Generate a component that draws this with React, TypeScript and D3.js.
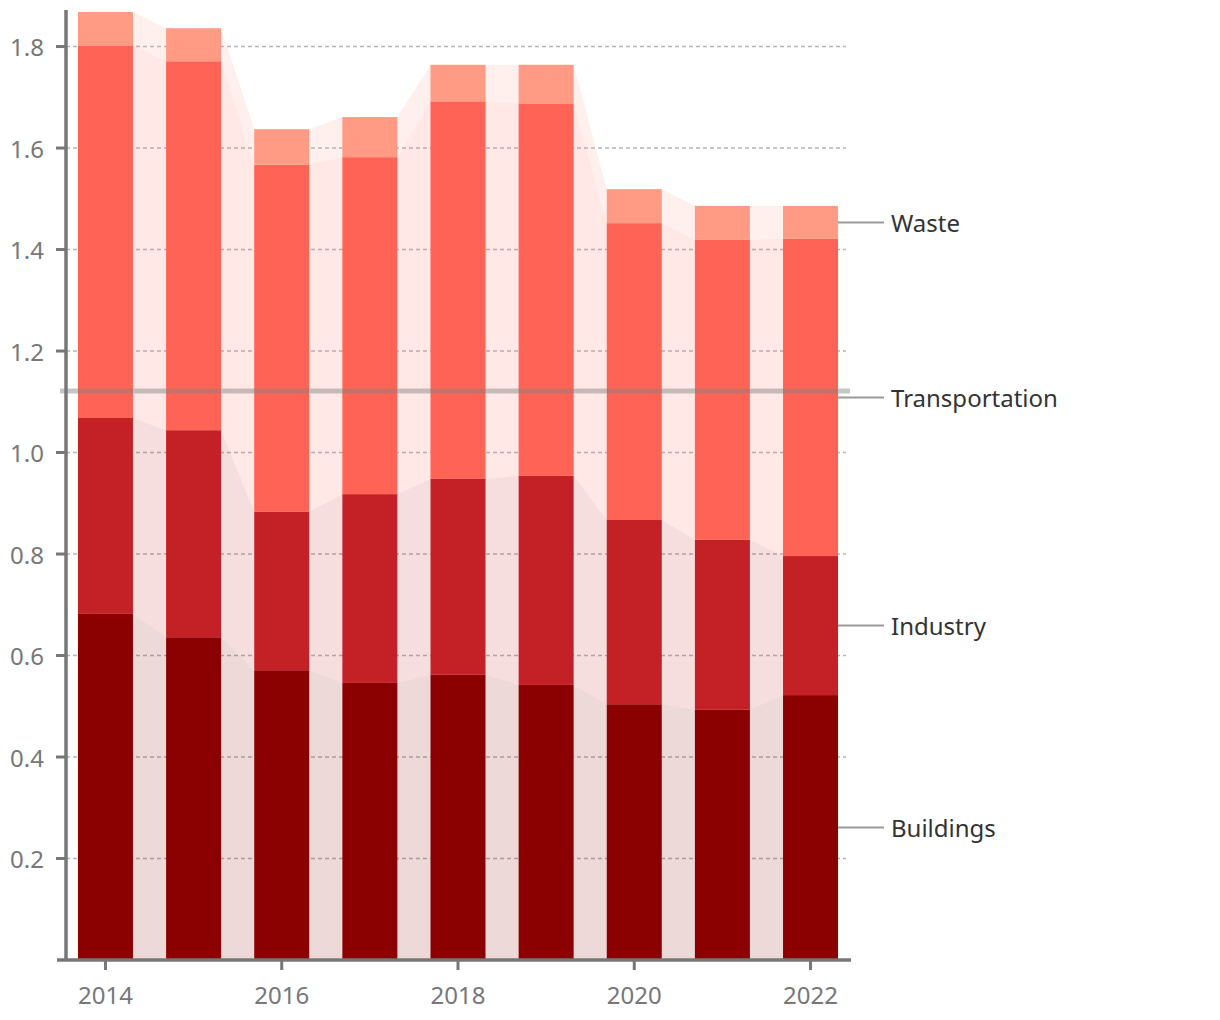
import React from "react";
import * as d3 from "d3";

const years = [2014, 2015, 2016, 2017, 2018, 2019, 2020, 2021, 2022];
const buildings = [0.682, 0.636, 0.571, 0.546, 0.562, 0.542, 0.504, 0.493, 0.522];
const industry = [0.386, 0.408, 0.312, 0.372, 0.386, 0.412, 0.363, 0.335, 0.274];
const transportation = [0.734, 0.727, 0.684, 0.664, 0.744, 0.734, 0.585, 0.591, 0.625];
const waste = [0.066, 0.065, 0.07, 0.079, 0.072, 0.076, 0.067, 0.067, 0.065];
const seriesNames = ["Buildings", "Industry", "Transportation", "Waste"];
const seriesColors = ["#8b0000", "#c42127", "#ff6355", "#ff9a85"];
const yTicks = [0.2, 0.4, 0.6, 0.8, 1.0, 1.2, 1.4, 1.6, 1.8];
const xTickYears = [2014, 2016, 2018, 2020, 2022];
const referenceValue = 1.121;

const FONT = "'Noto Sans', sans-serif";

export default function App() {
  const rows = years.map((yr, i) => ({
    year: yr,
    Buildings: buildings[i],
    Industry: industry[i],
    Transportation: transportation[i],
    Waste: waste[i],
  }));
  const stack = d3.stack<any>().keys(seriesNames);
  const stacked = stack(rows);

  const x = d3
    .scaleBand<number>()
    .domain(years)
    .range([61.4, 854.6])
    .paddingInner(0.376)
    .paddingOuter(0.188);
  const y = d3.scaleLinear().domain([0, 1.872]).range([960, 10]);
  const bw = x.bandwidth();

  const area = d3
    .area<any>()
    .x((d) => d.px)
    .y0((d) => y(d.y0))
    .y1((d) => y(d.y1))
    .curve(d3.curveLinear);

  const last = years.length - 1;

  return (
    <svg
      width={1220}
      height={1020}
      style={{ position: "absolute", left: 0, top: 0, background: "#fff" }}
      fontFamily={FONT}
    >
      {/* gridlines */}
      {yTicks.map((t) => (
        <line
          key={"g" + t}
          x1={66}
          x2={846}
          y1={y(t)}
          y2={y(t)}
          stroke="#b0b6bc"
          strokeWidth={1.5}
          strokeDasharray="4,3"
        />
      ))}
      {/* connecting areas */}
      {stacked.map((s, si) => {
        const pts: any[] = [];
        s.forEach((d: any, i: number) => {
          const x0 = x(years[i])!;
          pts.push({ px: x0, y0: d[0], y1: d[1] });
          pts.push({ px: x0 + bw, y0: d[0], y1: d[1] });
        });
        return (
          <path
            key={"a" + si}
            d={area(pts)!}
            fill={seriesColors[si]}
            fillOpacity={0.15}
          />
        );
      })}
      {/* bars */}
      {stacked.map((s, si) =>
        s.map((d: any, i: number) => (
          <rect
            key={"b" + si + "-" + i}
            x={x(years[i])}
            width={bw}
            y={y(d[1])}
            height={y(d[0]) - y(d[1])}
            fill={seriesColors[si]}
          />
        ))
      )}
      {/* reference line */}
      <line
        x1={60}
        x2={850}
        y1={y(referenceValue)}
        y2={y(referenceValue)}
        stroke="rgb(128,128,128)"
        strokeOpacity={0.45}
        strokeWidth={5}
      />
      {/* y axis */}
      <line x1={66} x2={66} y1={10} y2={960} stroke="#777" strokeWidth={3.5} />
      {yTicks.map((t) => (
        <g key={"yt" + t}>
          <line x1={56} x2={66} y1={y(t)} y2={y(t)} stroke="#777" strokeWidth={3} />
          <text
            x={44}
            y={y(t)}
            textAnchor="end"
            dominantBaseline="central"
            fontSize={24}
            fill="#777"
          >
            {t.toFixed(1)}
          </text>
        </g>
      ))}
      {/* x axis */}
      <line x1={57} x2={851} y1={960} y2={960} stroke="#777" strokeWidth={3.5} />
      {xTickYears.map((yr) => {
        const cx = x(yr)! + bw / 2;
        return (
          <g key={"xt" + yr}>
            <line x1={cx} x2={cx} y1={960} y2={970} stroke="#777" strokeWidth={3} />
            <text x={cx} y={1004} textAnchor="middle" fontSize={24} fill="#777">
              {yr}
            </text>
          </g>
        );
      })}
      {/* series labels */}
      {stacked.map((s, si) => {
        const d: any = s[last];
        const my = y((d[0] + d[1]) / 2);
        const xr = x(years[last])! + bw;
        return (
          <g key={"l" + si}>
            <line x1={xr} x2={884} y1={my} y2={my} stroke="#999" strokeWidth={2} />
            <text
              x={891}
              y={my}
              dominantBaseline="central"
              fontSize={24}
              fill="#333"
            >
              {seriesNames[si]}
            </text>
          </g>
        );
      })}
    </svg>
  );
}
